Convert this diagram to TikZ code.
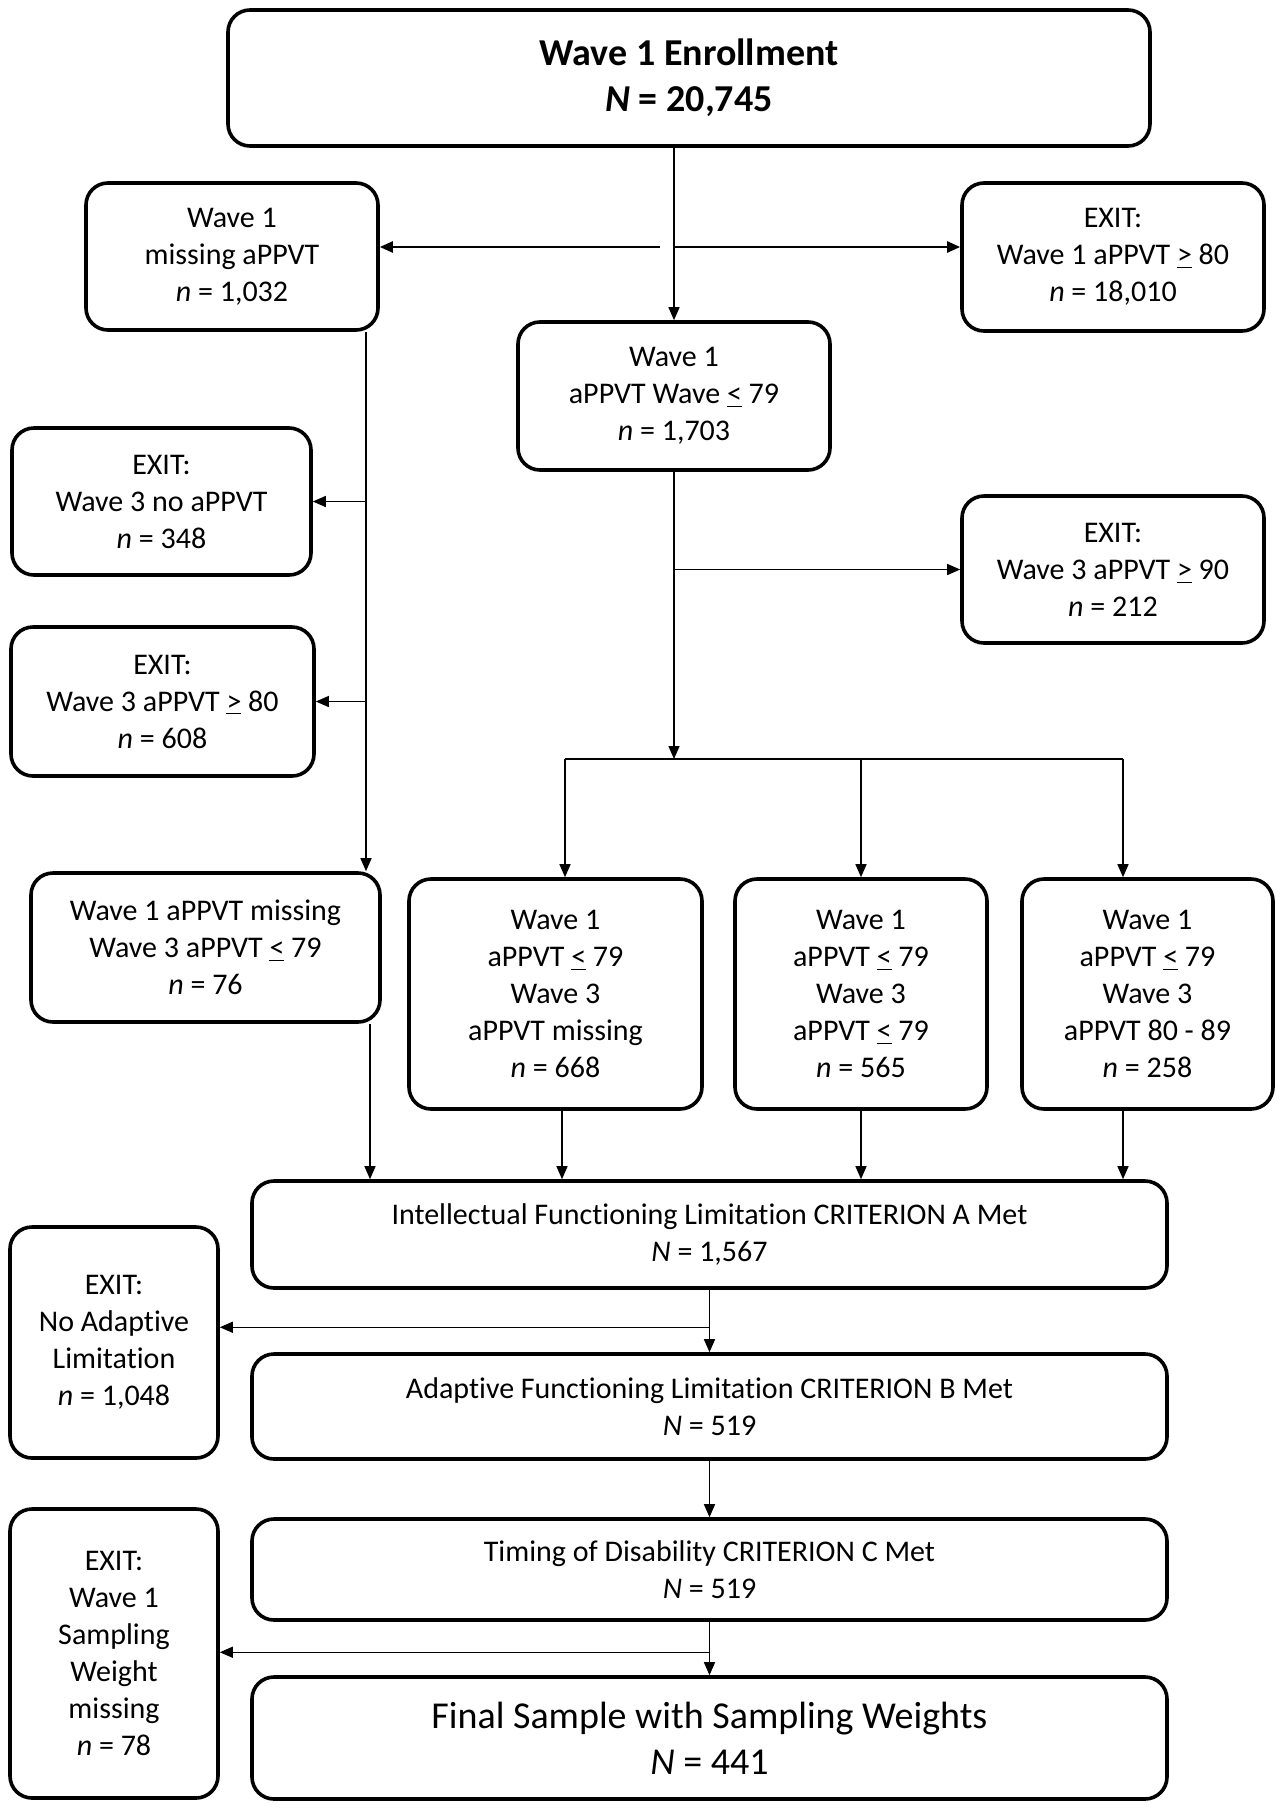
\documentclass[tikz,border=0pt]{standalone}
\usepackage{fontspec}
\setmainfont{Carlito}[Ligatures=NoCommon]
\usetikzlibrary{arrows.meta,calc}
\newcommand\uleq{\underline{<}}
\newcommand\ugeq{\underline{>}}
\begin{document}
\begin{tikzpicture}[x=0.5pt,y=-0.5pt,
  box/.style={draw,line width=1.8pt,rounded corners=11pt,align=center,
    inner sep=0pt,font=\fontsize{15}{18.5}\selectfont},
  arr/.style={line width=0.7pt,-{Triangle[length=6.5pt,width=5.5pt]}},
  ln/.style={line width=0.7pt}]
  \useasboundingbox (0,0) rectangle (1282,1810);
  % top row
  \path (689,78) node[box,minimum width=461pt,minimum height=68pt,
    font=\bfseries\fontsize{19}{23}\selectfont] (enrol) {Wave 1 Enrollment\\\textit{N} = 20,745};
  \path (232,256.5) node[box,minimum width=146pt,minimum height=73.5pt] (miss1)
    {Wave 1\\missing aPPVT\\\textit{n} = 1,032};
  \path (1113,257) node[box,minimum width=151pt,minimum height=74pt] (exit1)
    {EXIT:\\Wave 1 aPPVT \ugeq{} 80\\\textit{n} = 18,010};
  \path (674,396) node[box,minimum width=156pt,minimum height=74pt] (low1)
    {Wave 1\\aPPVT Wave \uleq{} 79\\\textit{n} = 1,703};
  % left column
  \path (161.5,501.5) node[box,minimum width=149.5pt,minimum height=73.5pt] (exit3no)
    {EXIT:\\Wave 3 no aPPVT\\\textit{n} = 348};
  \path (162.5,701.5) node[box,minimum width=151.5pt,minimum height=74.5pt] (exit3lo)
    {EXIT:\\Wave 3 aPPVT \ugeq{} 80\\\textit{n} = 608};
  \path (205.5,947.5) node[box,minimum width=174.5pt,minimum height=74.5pt] (missLow)
    {Wave 1 aPPVT missing\\Wave 3 aPPVT \uleq{} 79\\\textit{n} = 76};
  % right column
  \path (1113,569.5) node[box,minimum width=151pt,minimum height=73.5pt] (exit3hi)
    {EXIT:\\Wave 3 aPPVT \ugeq{} 90\\\textit{n} = 212};
  \path (555.5,994) node[box,minimum width=146.5pt,minimum height=115pt] (grpA)
    {Wave 1\\aPPVT \uleq{} 79\\Wave 3\\aPPVT missing\\\textit{n} = 668};
  \path (861,994) node[box,minimum width=126pt,minimum height=115pt] (grpB)
    {Wave 1\\aPPVT \uleq{} 79\\Wave 3\\aPPVT \uleq{} 79\\\textit{n} = 565};
  \path (1147.5,994) node[box,minimum width=125.5pt,minimum height=115pt] (grpC)
    {Wave 1\\aPPVT \uleq{} 79\\Wave 3\\aPPVT 80 - 89\\\textit{n} = 258};
  % criteria
  \path (709.5,1234.5) node[box,minimum width=457.5pt,minimum height=53.5pt] (critA)
    {Intellectual Functioning Limitation CRITERION A Met\\\textit{N} = 1,567};
  \path (114,1342.5) node[box,minimum width=104pt,minimum height=115.5pt] (exitAdapt)
    {EXIT:\\No Adaptive\\Limitation\\\textit{n} = 1,048};
  \path (709.5,1406.5) node[box,minimum width=457.5pt,minimum height=52.5pt] (critB)
    {Adaptive Functioning Limitation CRITERION B Met\\\textit{N} = 519};
  \path (709.5,1569.5) node[box,minimum width=457.5pt,minimum height=50.5pt] (critC)
    {Timing of Disability CRITERION C Met\\\textit{N} = 519};
  \path (114,1653.5) node[box,minimum width=104pt,minimum height=144.5pt] (exitWeight)
    {EXIT:\\Wave 1\\Sampling\\Weight\\missing\\\textit{n} = 78};
  \path (709.5,1738) node[box,minimum width=457.5pt,minimum height=61pt,
    font=\fontsize{19}{23}\selectfont] (final)
    {Final Sample with Sampling Weights\\\textit{N} = 441};
  % connectors
  \coordinate (split1) at (674,247);
  \coordinate (split1l) at (660,247);
  \coordinate (lcol) at (366,0);
  \coordinate (bar) at (674,759);
  \coordinate (barA) at (565,759);
  \coordinate (barC) at (1123,759);
  \draw[arr] (low1.north |- enrol.south) -- (low1.north);
  \draw[arr,line width=1.2pt] (split1l) -- (split1l -| miss1.east);
  \draw[arr,line width=1.2pt] (split1) -- (split1 -| exit1.west);
  \draw[arr] (miss1.south -| lcol) -- (missLow.north -| lcol);
  \draw[arr] (lcol |- exit3no.east) -- (exit3no.east);
  \draw[arr] (lcol |- exit3lo.east) -- (exit3lo.east);
  \draw[arr] (low1.south) -- (bar);
  \draw[arr] (low1.south |- exit3hi.west) -- (exit3hi.west);
  \draw[ln] (barA) -- (barC);
  \draw[arr] (barA) -- (barA |- grpA.north);
  \draw[arr] (grpB.north |- bar) -- (grpB.north);
  \draw[arr] (barC) -- (barC |- grpC.north);
  \draw[arr] (missLow.south -| 370,0) -- (critA.north -| 370,0);
  \draw[arr] (grpA.south -| 562,0) -- (critA.north -| 562,0);
  \draw[arr] (grpB.south) -- (critA.north -| grpB.south);
  \draw[arr] (grpC.south -| barC) -- (critA.north -| barC);
  \coordinate (j1) at ($(critA.south)!0.6!(critB.north)$);
  \draw[arr] (critA.south) -- (critB.north);
  \draw[arr] (j1) -- (j1 -| exitAdapt.east);
  \draw[arr] (critB.south) -- (critC.north);
  \coordinate (j2) at ($(critC.south)!0.57!(final.north)$);
  \draw[arr] (critC.south) -- (final.north);
  \draw[arr] (j2) -- (j2 -| exitWeight.east);
\end{tikzpicture}
\end{document}
